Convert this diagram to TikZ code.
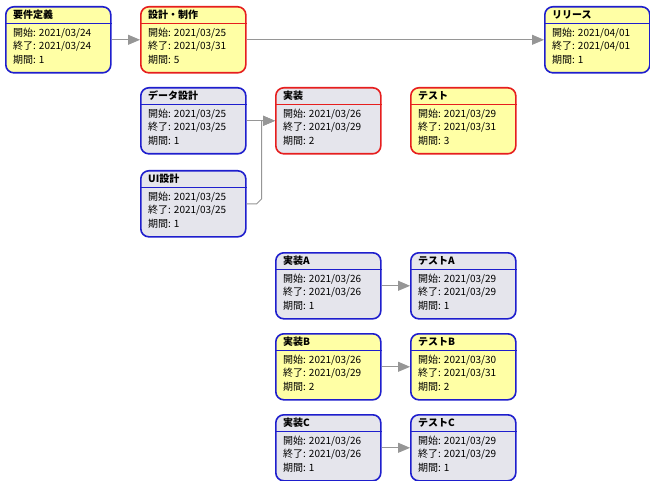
\documentclass[tikz,border=0pt]{standalone}
\usepackage{fontspec}
\setmainfont{Noto Sans CJK JP}
\usetikzlibrary{arrows.meta}
\definecolor{yel}{RGB}{255,255,165}
\definecolor{gry}{RGB}{229,229,236}
\definecolor{blu}{RGB}{30,30,205}
\definecolor{rd}{RGB}{230,30,30}
\definecolor{ln}{RGB}{150,150,150}
\tikzset{
 task/.style={draw, line width=1.6pt, rounded corners=8pt, minimum width=105pt, minimum height=66pt, inner sep=0pt, anchor=north west},
 ttl/.style={anchor=west, font=\fontsize{10}{11}\selectfont\bfseries, inner sep=0pt},
 txt/.style={anchor=west, font=\fontsize{10}{11}\selectfont, inner sep=0pt},
 conn/.style={draw=ln, line width=0.9pt, -{Triangle[length=12pt,width=10pt]}},
 divider/.style={line width=0.9pt},
}
\newcommand\taskbox[9]{%
 \node[task, fill=#4, draw=#5] (#1) at (#2,#3) {};
 \draw[divider, draw=#5] ([yshift=-17pt]#1.north west) -- ([yshift=-17pt]#1.north east);
 \node[ttl] (#1-t) at ([xshift=8pt,yshift=-9pt]#1.north west) {#6};
 \node[txt] (#1-s) at ([xshift=8pt,yshift=-27pt]#1.north west) {開始: #7};
 \node[txt] (#1-e) at ([xshift=8pt,yshift=-40pt]#1.north west) {終了: #8};
 \node[txt] (#1-d) at ([xshift=8pt,yshift=-54pt]#1.north west) {期間: #9};
}
\begin{document}
\begin{tikzpicture}[x=1pt,y=-1pt]
\fill[white] (0,0) rectangle (650,481);
\useasboundingbox (0,0) rectangle (650,481);
\taskbox{req}{5}{6}{yel}{blu}{要件定義}{2021/03/24}{2021/03/24}{1}
\taskbox{design}{140}{6}{yel}{rd}{設計・制作}{2021/03/25}{2021/03/31}{5}
\taskbox{release}{544}{6}{yel}{blu}{リリース}{2021/04/01}{2021/04/01}{1}
\taskbox{data}{140}{87}{gry}{blu}{データ設計}{2021/03/25}{2021/03/25}{1}
\taskbox{impl}{275}{87}{gry}{rd}{実装}{2021/03/26}{2021/03/29}{2}
\taskbox{test}{410}{87}{yel}{rd}{テスト}{2021/03/29}{2021/03/31}{3}
\taskbox{ui}{140}{170}{gry}{blu}{UI設計}{2021/03/25}{2021/03/25}{1}
\taskbox{implA}{275}{252}{gry}{blu}{実装A}{2021/03/26}{2021/03/26}{1}
\taskbox{testA}{410}{252}{gry}{blu}{テストA}{2021/03/29}{2021/03/29}{1}
\taskbox{implB}{275}{333}{yel}{blu}{実装B}{2021/03/26}{2021/03/29}{2}
\taskbox{testB}{410}{333}{yel}{blu}{テストB}{2021/03/30}{2021/03/31}{2}
\taskbox{implC}{275}{414}{gry}{blu}{実装C}{2021/03/26}{2021/03/26}{1}
\taskbox{testC}{410}{414}{gry}{blu}{テストC}{2021/03/29}{2021/03/29}{1}
\draw[conn] (req) -- (design);
\draw[conn] (design) -- (release);
\draw[conn] (data) -- (impl);
\draw[conn] (ui.east) -- ++(10,0) -- ++(5,-5) |- (impl.west);
\draw[conn] (implA) -- (testA);
\draw[conn] (implB) -- (testB);
\draw[conn] (implC) -- (testC);
\end{tikzpicture}
\end{document}
